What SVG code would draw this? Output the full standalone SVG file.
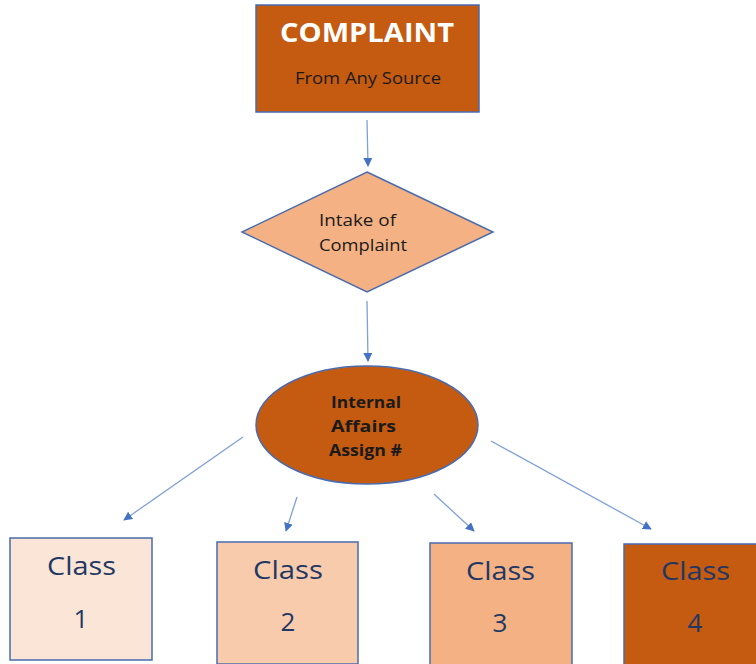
<svg xmlns="http://www.w3.org/2000/svg" width="756" height="664" viewBox="0 0 756 664">
<defs>
<marker id="ah" viewBox="0 0 10 10" refX="9" refY="5" markerWidth="9" markerHeight="9" markerUnits="userSpaceOnUse" orient="auto">
<path d="M0,0 L10,5 L0,10 z" fill="#4472C4"/>
</marker>
<style>
text{font-family:"Open Sans",Lato,"Liberation Sans",sans-serif}
.edge{stroke:#7FA0D8;stroke-width:1.3;fill:none;marker-end:url(#ah)}
.box{stroke:#4A6BAE;stroke-width:1.5}
.cls{fill:#1F3864;font-size:26px}
.dark{fill:#1a1a1a}
</style>
</defs>
<rect width="756" height="664" fill="#ffffff"/>
<g id="complaint">
<rect class="box" x="256" y="5" width="223" height="107" fill="#C55A11"/>
<text x="280" y="42" fill="#ffffff" font-size="27" font-weight="bold" textLength="174" lengthAdjust="spacingAndGlyphs">COMPLAINT</text>
<text class="dark" x="295" y="84" font-size="16" textLength="146" lengthAdjust="spacingAndGlyphs">From Any Source</text>
</g>
<g id="intake">
<polygon class="box" points="367,172 493,232 367,292 242,232" fill="#F4B183"/>
<text class="dark" x="319" y="226" font-size="15.5" textLength="77" lengthAdjust="spacingAndGlyphs">Intake of</text>
<text class="dark" x="319" y="251" font-size="15.5" textLength="88" lengthAdjust="spacingAndGlyphs">Complaint</text>
</g>
<g id="ia">
<ellipse class="box" cx="367" cy="425" rx="111" ry="59" fill="#C55A11"/>
<text class="dark" x="331" y="408" font-size="15.5" font-weight="bold" textLength="70" lengthAdjust="spacingAndGlyphs">Internal</text>
<text class="dark" x="331" y="432" font-size="15.5" font-weight="bold" textLength="65" lengthAdjust="spacingAndGlyphs">Affairs</text>
<text class="dark" x="329" y="456" font-size="15.5" font-weight="bold" textLength="73" lengthAdjust="spacingAndGlyphs">Assign #</text>
</g>
<g id="class1">
<rect class="box" x="10" y="538" width="142" height="122" fill="#FBE5D6"/>
<text class="cls" x="47" y="575" textLength="69" lengthAdjust="spacingAndGlyphs">Class</text>
<text class="cls" x="81" y="628" text-anchor="middle">1</text>
</g>
<g id="class2">
<rect class="box" x="217" y="542" width="141" height="122" fill="#F8CBAD"/>
<text class="cls" x="253" y="579" textLength="70" lengthAdjust="spacingAndGlyphs">Class</text>
<text class="cls" x="288" y="631" text-anchor="middle">2</text>
</g>
<g id="class3">
<rect class="box" x="430" y="543" width="142" height="125" fill="#F4B183"/>
<text class="cls" x="466" y="580" textLength="69" lengthAdjust="spacingAndGlyphs">Class</text>
<text class="cls" x="500" y="632" text-anchor="middle">3</text>
</g>
<g id="class4">
<rect class="box" x="624" y="544" width="140" height="125" fill="#C55A11"/>
<text class="cls" x="661" y="580" textLength="69" lengthAdjust="spacingAndGlyphs">Class</text>
<text class="cls" x="695" y="632" text-anchor="middle">4</text>
</g>
<g id="connectors">
<line class="edge" x1="367" y1="120" x2="368" y2="166"/>
<line class="edge" x1="367" y1="301" x2="368" y2="361"/>
<line class="edge" x1="243" y1="437" x2="124" y2="520"/>
<line class="edge" x1="297" y1="497" x2="286" y2="531"/>
<line class="edge" x1="434" y1="494" x2="474" y2="531"/>
<line class="edge" x1="491" y1="441" x2="651" y2="529"/>
</g>
</svg>
